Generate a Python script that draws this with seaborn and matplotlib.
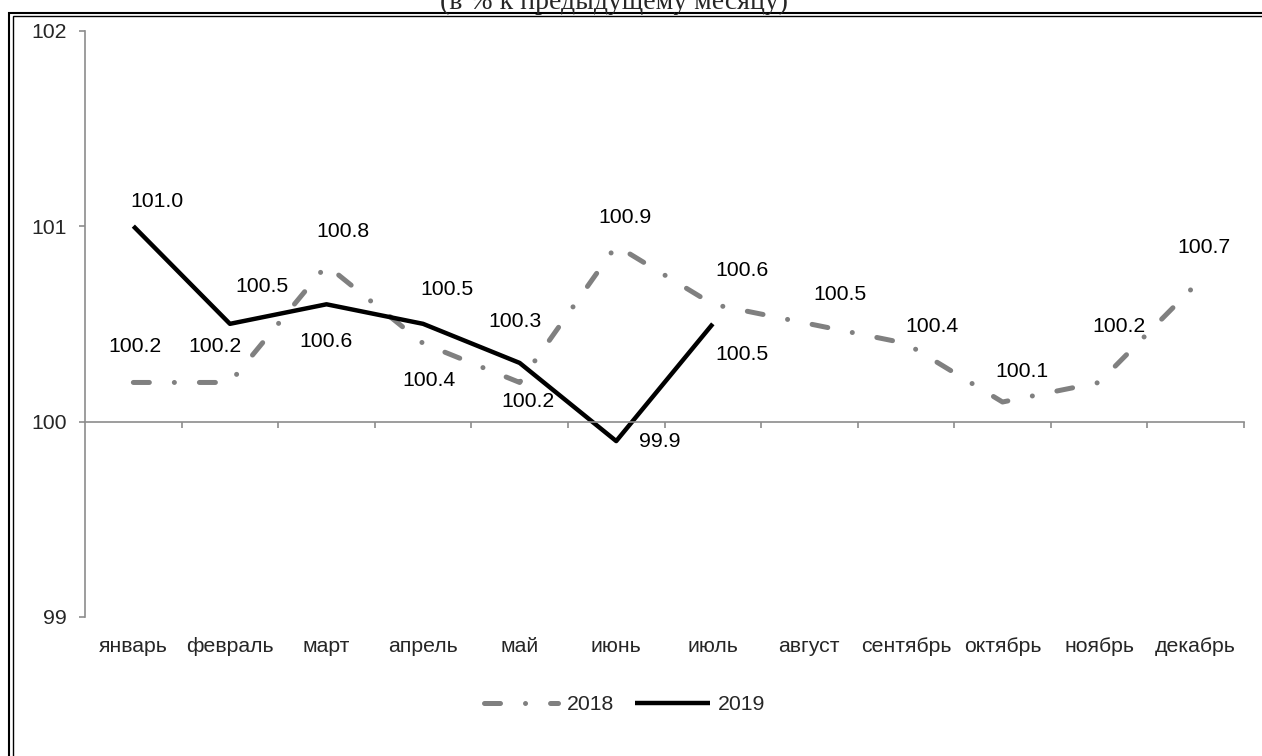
import numpy as np
import pandas as pd
import matplotlib.pyplot as plt
import seaborn as sns
from matplotlib.patches import Rectangle

months = ['январь', 'февраль', 'март', 'апрель', 'май', 'июнь',
          'июль', 'август', 'сентябрь', 'октябрь', 'ноябрь', 'декабрь']
vals_2018 = [100.2, 100.2, 100.8, 100.4, 100.2, 100.9, 100.6, 100.5, 100.4, 100.1, 100.2, 100.7]
vals_2019 = [101.0, 100.5, 100.6, 100.5, 100.3, 99.9, 100.5]
y_ticks = [99, 100, 101, 102]
series_names = ['2018', '2019']
title = '(в % к предыдущему месяцу)'

# data label offsets, points (dx, dy)
off_2018 = [(1, 26), (-11, 26), (12, 24), (4, -27), (6, -14), (6, 20),
            (21, 24), (22, 21), (19, 12), (14, 22), (14, 40), (6, 27)]
off_2019 = [(17, 18), (23, 27), (0, -27), (17, 25), (-3, 30), (31, 0), (21, -22)]

sns.set_style('white')
plt.rcParams['font.family'] = ['Liberation Sans', 'DejaVu Sans']

df18 = pd.DataFrame({'month': np.arange(len(vals_2018)), 'value': vals_2018})
df19 = pd.DataFrame({'month': np.arange(len(vals_2019)), 'value': vals_2019})

fig = plt.figure(figsize=(12.62, 7.56), dpi=100)
ax = fig.add_axes([0.0674, 0.1839, 0.9183, 0.7755])

sns.lineplot(data=df18, x='month', y='value', ax=ax, color='#808080', lw=3.6,
             linestyle=(0, (3.2, 5.0, 0.01, 5.0)), dash_capstyle='round',
             errorbar=None, label=series_names[0])
sns.lineplot(data=df19, x='month', y='value', ax=ax, color='black', lw=3.2,
             solid_capstyle='butt', errorbar=None, label=series_names[1])

fs = 15.3
for df, offs in [(df18, off_2018), (df19, off_2019)]:
    for (x, v), (dx, dy) in zip(df[['month', 'value']].values, offs):
        ax.annotate(f'{v:.1f}', (x, v), xytext=(dx, dy), textcoords='offset points',
                    ha='center', va='center', fontsize=fs, color='black')

axis_col = '#8c8c8c'
ax.set_xlim(-0.5, len(months) - 0.5)
ax.set_ylim(y_ticks[0], y_ticks[-1])
ax.set_yticks(y_ticks)
ax.set_xticks(np.arange(len(months)))
ax.set_xticklabels(months)
ax.set_xticks(np.arange(0.5, len(months), 1), minor=True)
ax.set_xlabel('')
ax.set_ylabel('')

for s in ['top', 'right']:
    ax.spines[s].set_visible(False)
ax.spines['left'].set_color(axis_col)
ax.spines['left'].set_linewidth(1.2)
ax.spines['bottom'].set_position(('data', 100))
ax.spines['bottom'].set_color(axis_col)
ax.spines['bottom'].set_linewidth(1.2)

ax.tick_params(axis='y', direction='out', length=4, width=1.2, color=axis_col,
               labelsize=fs, pad=9, left=True)
ax.tick_params(axis='x', which='major', length=0, pad=155, labelsize=fs)
ax.tick_params(axis='x', which='minor', direction='out', length=4, width=1.2,
               color=axis_col, bottom=True)

ax.get_legend().remove()
handles = ax.get_lines()[:2]
fig.legend(handles, series_names, loc='center', bbox_to_anchor=(0.495, 0.0675),
           ncol=2, frameon=False, fontsize=fs, handlelength=3.5,
           handletextpad=0.4, columnspacing=1.0)

fig.text(614 / 1262, 1 - 9 / 756, title, ha='center', va='baseline', fontsize=20,
         family=['Liberation Serif', 'DejaVu Serif'])

# double frame round the chart
fig.patches.append(Rectangle((9 / 1262, -0.1), 1.2, 1.1 - 13 / 756, fill=False,
                             lw=1.5, ec='black', transform=fig.transFigure))
fig.patches.append(Rectangle((12.5 / 1262, -0.1), 1.2, 1.1 - 16.5 / 756, fill=False,
                             lw=1.0, ec='black', transform=fig.transFigure))

fig.savefig('out.png', dpi=100)
